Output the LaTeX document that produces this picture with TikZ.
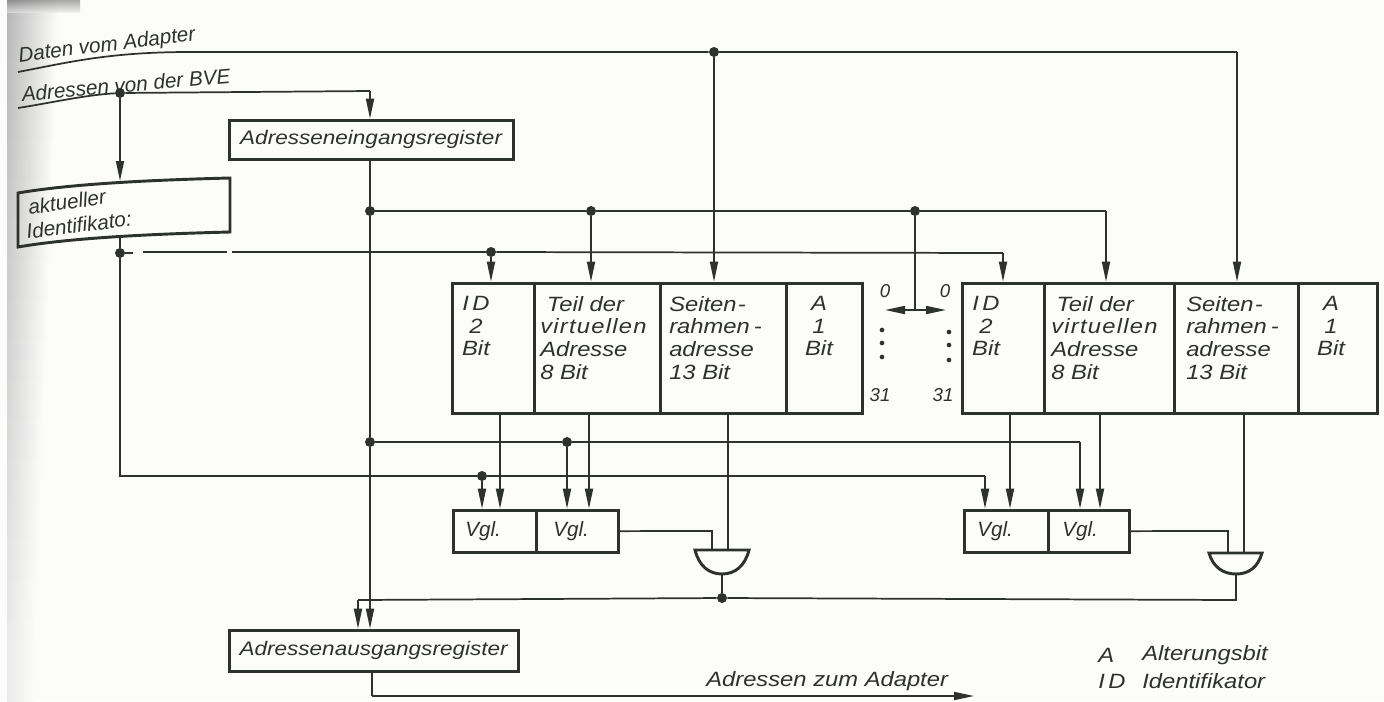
\documentclass[tikz,border=0pt]{standalone}
\usepackage{fontspec}
\setmainfont{Liberation Sans}
\newfontfamily\widefont{Liberation Sans}[FakeStretch=1.15]
\usetikzlibrary{arrows.meta,positioning,calc}
\definecolor{ink}{HTML}{2E322E}
\definecolor{paper}{HTML}{FCFCFA}
\newcommand{\wideword}[1]{{\addfontfeatures{LetterSpace=6}#1}}
\tikzset{
  x=0.75pt,y=-0.75pt,
  wire/.style={draw=ink,line width=1.3pt},
  arr/.style={wire,-{Stealth[length=15pt,width=6pt,inset=0pt]}},
  darr/.style={wire,{Stealth[length=15pt,width=6pt,inset=0pt]}-{Stealth[length=15pt,width=6pt,inset=0pt]}},
  heavy/.style={draw=ink,line width=2.2pt},
  regbox/.style 2 args={heavy,anchor=north west,xshift=-1pt,yshift=1pt,inner sep=0pt,minimum width=#1*0.75pt,minimum height=#2*0.75pt,text=ink,font=\widefont\fontsize{14.7}{18}\selectfont\itshape},
  cellbox/.style 2 args={heavy,anchor=north west,xshift=-1pt,yshift=1pt,inner sep=0pt,minimum width=#1*0.75pt,minimum height=#2*0.75pt},
  txt/.style={text=ink,font=\fontsize{15.5}{17.5}\selectfont\itshape,inner sep=0pt,align=left},
  wtxt/.style={text=ink,font=\widefont\fontsize{15.5}{17}\selectfont\itshape,inner sep=0pt,align=left},
  ctxt/.style={wtxt,align=center,anchor=north},
  smalltxt/.style={text=ink,font=\fontsize{14}{17}\selectfont\itshape,inner sep=0pt},
  dot/.style={circle,fill=ink,inner sep=0pt,minimum size=7.5pt},
  tiny/.style={circle,fill=ink,inner sep=0pt,minimum size=3.5pt},
  gate/.style={heavy,fill=paper},
}
\begin{document}
\begin{tikzpicture}
\useasboundingbox (0,0) rectangle (1384,701);
% paper
\fill[paper] (0,0) rectangle (1384,701);
\foreach \i in {0,...,34}{
  \pgfmathsetmacro{\stripg}{max(8,28-0.62*\i)}
  \pgfmathsetmacro{\stripw}{58-0.7*\i}
  \shade[left color=black!\stripg,right color=paper,draw=none] (7,{\i*20}) rectangle (\stripw,{\i*20+21});
}
\shade[top color=black!55,bottom color=black!10,draw=none,opacity=.6] (7,0) rectangle (80,12);

% ---- named points
\coordinate (dstart) at (18,72);
\coordinate (astart) at (18,108);
\node[dot] (jd) at (714,52) {};
\coordinate (dend) at (1237,52);
\node[dot] (ja) at (120,93) {};
\coordinate (aturn) at (370,91);

% ---- registers
\node[regbox={284}{39}] (ein) at (229,120) {Adresseneingangsregister};
\node[regbox={289}{41}] (aus) at (229,630) {Adressenausgangsregister};

% ---- identifier box (skewed)
\coordinate (idnw) at (18,193);
\coordinate (idne) at (230,178);
\coordinate (idse) at (230,232);
\coordinate (idsw) at (18,247);
\draw[heavy] (idnw) .. controls (70,184) and (150,180) .. (idne) -- (idse) .. controls (150,234) and (70,238) .. (idsw) -- cycle;
\node[txt,rotate=8] (idtxt1) at (67,202) {aktueller};
\node[txt,rotate=7] (idtxt2) at (79,225) {Identifikato:};
\coordinate (idtop) at (120,181);
\coordinate (idbot) at (120,235);

% ---- left table
\node[cellbox={82}{130}] (l1) at (452,283) {};
\node[cellbox={126}{130}] (l2) at (534,283) {};
\node[cellbox={126}{130}] (l3) at (660,283) {};
\node[cellbox={76}{130}] (l4) at (786,283) {};
% ---- right table
\node[cellbox={82}{130}] (r1) at (962,283) {};
\node[cellbox={130}{130}] (r2) at (1044,283) {};
\node[cellbox={124}{130}] (r3) at (1174,283) {};
\node[cellbox={79}{130}] (r4) at (1298,283) {};

% cell text
\node[ctxt] (tl1) at (476,296) {I\,D\\2\\Bit};
\node[wtxt,anchor=north west] (tl2) at (540,296) {\hspace*{5pt}Teil der\\\wideword{virtuellen}\\Adresse\\8 Bit};
\node[wtxt,anchor=north west] (tl3) at (669,296) {Seiten\hspace{1pt}-\\rahmen\hspace{3pt}-\\adresse\\13 Bit};
\node[ctxt] (tl4) at (819,296) {A\\1\\Bit};
\node[ctxt] (tr1) at (986,296) {I\,D\\2\\Bit};
\node[wtxt,anchor=north west] (tr2) at (1051,296) {\hspace*{4pt}Teil der\\\wideword{virtuellen}\\Adresse\\8 Bit};
\node[wtxt,anchor=north west] (tr3) at (1186,296) {Seiten\hspace{1pt}-\\rahmen\hspace{3pt}-\\adresse\\13 Bit};
\node[ctxt] (tr4) at (1331,296) {A\\1\\Bit};

% ---- comparators
\node[cellbox={83}{42}] (vl1) at (453,510) {};
\node[cellbox={82}{42}] (vl2) at (536,510) {};
\node[cellbox={84}{42}] (vr1) at (964,510) {};
\node[cellbox={81}{42}] (vr2) at (1048,510) {};
\node[txt,anchor=west] (tv1) at (465,531) {Vgl.};
\node[txt,anchor=west] (tv2) at (553,531) {Vgl.};
\node[txt,anchor=west] (tv3) at (977,531) {Vgl.};
\node[txt,anchor=west] (tv4) at (1062,531) {Vgl.};

% ---- AND gates
\coordinate (gl) at (722,574);
\coordinate (gr) at (1236,574);
\draw[gate] (695,550) -- (749,550) .. controls (745,566) and (735,574) .. (gl) .. controls (709,574) and (699,566) .. cycle;
\draw[gate] (1209,553) -- (1262,553) .. controls (1258,567) and (1249,574) .. (gr) .. controls (1223,574) and (1213,567) .. cycle;

% ---- bus lines
\draw[wire] (dstart) .. controls (70,62) and (110,52) .. (190,52) -- (jd);
\draw[wire] (jd) -- (dend);
\draw[arr] (dend) -- (dend |- r3.north);
\draw[arr] (jd) -- (jd |- l3.north);

\draw[wire] (astart) .. controls (50,103) and (85,95) .. (ja);
\draw[wire] (ja) -- (aturn);
\draw[arr] (aturn) -- (aturn |- ein.north);
\draw[arr] (ja) -- (ja |- idtop);

% address in, down to the output register
\coordinate (ex) at (370,159);
\node[dot] (j1) at (370,211) {};
\node[dot] (j2) at (591,211) {};
\node[dot] (j3) at (915,211) {};
\coordinate (j4) at (1106,211);
\draw[wire] (ex) -- (j1);
\draw[wire] (j1) -- (j2) -- (j3) -- (j4);
\draw[arr] (j2) -- (j2 |- l2.north);
\draw[arr] (j4) -- (j4 |- r2.north);
\coordinate (dbl) at (915,310);
\draw[wire] (j3) -- (dbl);
\coordinate (dbla) at (885,310);
\coordinate (dblb) at (946,310);
\draw[darr] (dbla) -- (dblb);

\node[dot] (j5) at (370,442) {};
\draw[arr] (j1) -- (j5) -- (j5 |- aus.north);

% identifier line
\node[dot] (k1) at (120,253) {};
\node[dot] (k2) at (491,252) {};
\coordinate (k3) at (1003,253);
\coordinate (g1) at (133,253);
\coordinate (g2) at (143,252);
\coordinate (g3) at (227,252);
\coordinate (g4) at (232,252);
\draw[wire] (idbot) -- (k1);
\draw[wire] (k1) -- (g1);
\draw[wire] (g2) -- (g3);
\draw[wire] (g4) -- (k2);
\draw[wire] (k2) -- (k3);
\draw[arr] (k3) -- (k3 |- r1.north);
\draw[arr] (k2) -- (k2 |- l1.north);

% identifier line to comparators
\coordinate (k4) at (120,476);
\node[dot] (k5) at (482,476) {};
\coordinate (k6) at (985,476);
\draw[wire] (k1) -- (k4) -- (k5) -- (k6);
\draw[arr] (k5) -- (k5 |- vl1.north);
\draw[arr] (k6) -- (k6 |- vr1.north);

% address line to comparators
\node[dot] (m1) at (567,442) {};
\coordinate (m2) at (1080,442);
\draw[wire] (j5) -- (m1) -- (m2);
\draw[arr] (m1) -- (m1 |- vl2.north);
\draw[arr] (m2) -- (m2 |- vr2.north);

% table to comparators
\coordinate (t1) at (500,413);
\coordinate (t2) at (589,413);
\coordinate (t3) at (1010,413);
\coordinate (t4) at (1100,413);
\draw[arr] (t1) -- (t1 |- vl1.north);
\draw[arr] (t2) -- (t2 |- vl2.north);
\draw[arr] (t3) -- (t3 |- vr1.north);
\draw[arr] (t4) -- (t4 |- vr2.north);

% table and comparators to gates
\coordinate (t5) at (728,413);
\coordinate (t6) at (1244,413);
\draw[wire] (t5) -- (728,550);
\draw[wire] (t6) -- (1244,553);
\draw[wire] (vl2.east) -- (712,531) -- (712,550);
\draw[wire] (vr2.east) -- (1228,531) -- (1228,553);

% gates to output-register control
\node[dot] (h1) at (722,598) {};
\coordinate (h2) at (1236,600);
\coordinate (h3) at (358,600);
\draw[wire] (gl) -- (h1);
\draw[wire] (gr) -- (h2) -- (h1) -- (h3);
\draw[arr] (h3) -- (h3 |- aus.north);

% output
\coordinate (o1) at (372,671);
\coordinate (o2) at (372,696);
\coordinate (o3) at (974,696);
\draw[wire] (o1) -- (o2);
\draw[arr] (o2) -- (o3);

% ---- labels
\node[txt,rotate=7] (ld) at (107,46) {Daten vom Adapter};
\node[txt,rotate=5] (la) at (126,85) {Adressen von der BVE};
\node[wtxt,anchor=west] (lo) at (706,681) {Adressen zum Adapter};
\node[wtxt,anchor=west] (lg1) at (1098,655) {A};
\node[wtxt,anchor=west] (lg2) at (1142,655) {Alterungsbit};
\node[wtxt,anchor=west] (lg3) at (1098,681) {I\,D};
\node[wtxt,anchor=west] (lg4) at (1142,681) {Identifikator};

\node[smalltxt] (n0a) at (885,291) {0};
\node[smalltxt] (n0b) at (945,291) {0};
\node[smalltxt] (n31a) at (880,395) {31};
\node[smalltxt] (n31b) at (943,395) {31};
\node[tiny] (d1) at (882,330) {};
\node[tiny] (d2) at (882,343) {};
\node[tiny] (d3) at (882,357) {};
\node[tiny] (d4) at (949,332) {};
\node[tiny] (d5) at (949,345) {};
\node[tiny] (d6) at (949,360) {};
\end{tikzpicture}
\end{document}
